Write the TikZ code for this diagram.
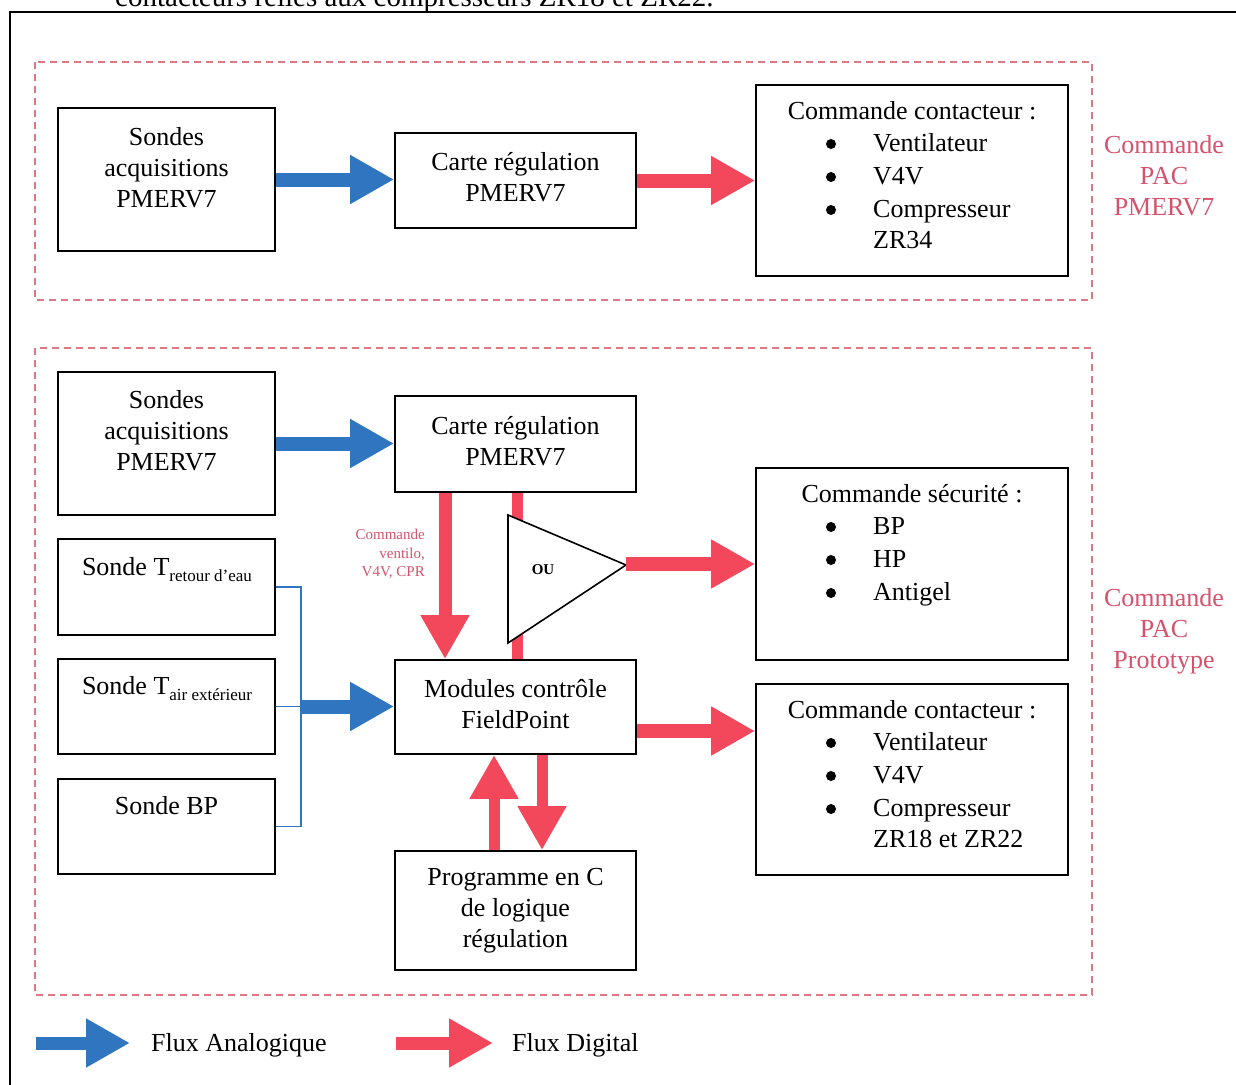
\documentclass[tikz,border=0pt]{standalone}
\usepackage{fontspec}
\setmainfont{Liberation Serif}
\usetikzlibrary{arrows.meta}
\definecolor{blueA}{RGB}{47,117,192}
\definecolor{redA}{RGB}{243,72,92}
\definecolor{pinkT}{RGB}{214,82,108}
\definecolor{dashR}{RGB}{222,120,130}
\newcommand\bigf{\fontsize{26}{31}\selectfont}
\newcommand\subf{\fontsize{17}{17}\selectfont}
\begin{document}
\begin{tikzpicture}[x=1pt,y=-1pt,font=\bigf,
  box/.style={draw=black, line width=1.8pt, inner sep=0pt, fill=white},
  lbl/.style={align=center, inner sep=0pt},
  bul/.style={circle, fill=black, inner sep=0pt, minimum size=10pt},
  itm/.style={anchor=west, inner sep=0pt, text height=18pt, text depth=5pt},
  ttl/.style={inner sep=0pt, text height=18pt, text depth=5pt},
  grp/.style={draw=dashR, line width=1.5pt, dash pattern=on 7pt off 5pt},
  pac/.style={align=center, inner sep=0pt, text=pinkT},
  bluearrow/.style={draw=blueA, line width=14pt, -{Triangle[width=46pt,length=44pt]}},
  redarrow/.style={draw=redA, line width=14pt, -{Triangle[width=46pt,length=44pt]}},
  brace/.style={draw=blueA, line width=1.3pt}
]
\useasboundingbox (0,0) rectangle (1236,1084);
\clip (0,0) rectangle (1236,1084);

% caption line (cut off) and outer frame
\node[anchor=base west, inner sep=0pt, font=\fontsize{29}{31}\selectfont] (cap) at (115,6) {contacteurs reliés aux compresseurs ZR18 et ZR22.};
\draw[line width=2pt] (10,1100) -- (10,12) -- (1250,12);

% groups
\draw[grp] (35,62) rectangle (1092,300);
\draw[grp] (35,348) rectangle (1092,995);
\node[pac] (pac1) at (1164,176) {Commande\\PAC\\PMERV7};
\node[pac] (pac2) at (1164,631) {Commande\\PAC\\Prototype};

% ---------- top group ----------
\node[box, minimum width=217pt, minimum height=143pt] (sa1) at (166.5,179.5) {};
\node[lbl] (sa1t) at (166.5,168) {Sondes\\acquisitions\\PMERV7};
\node[box, minimum width=241pt, minimum height=95pt] (cr1) at (515.5,180.5) {};
\node[lbl] (cr1t) at (515.5,177) {Carte régulation\\PMERV7};
\node[box, minimum width=312pt, minimum height=191pt] (cc1) at (912,180.5) {};
\node[ttl] (cc1t) at (912,113) {Commande contacteur :};
\node[bul] (cc1b1) at (831,144) {};
\node[bul] (cc1b2) at (831,177) {};
\node[bul] (cc1b3) at (831,210) {};
\node[itm] (cc1i1) at (873,145) {Ventilateur};
\node[itm] (cc1i2) at (873,178) {V4V};
\node[itm] (cc1i3) at (873,211) {Compresseur};
\node[itm] (cc1i4) at (873,242) {ZR34};

\draw[bluearrow] (sa1.east) -- (sa1.east -| cr1.west);
\draw[redarrow] (cr1.east) -- (cr1.east -| cc1.west);

% ---------- bottom group ----------
\node[box, minimum width=217pt, minimum height=143pt] (sa2) at (166.5,443.5) {};
\node[lbl] (sa2t) at (166.5,431) {Sondes\\acquisitions\\PMERV7};
\node[box, minimum width=241pt, minimum height=96pt] (cr2) at (515.5,444) {};
\node[lbl] (cr2t) at (515.5,441) {Carte régulation\\PMERV7};

\node[box, minimum width=217pt, minimum height=96pt] (st1) at (166.5,587) {};
\node[ttl] (st1t) at (167,569) {Sonde T\raisebox{-0.22em}{\subf retour d’eau}};
\node[box, minimum width=217pt, minimum height=95pt] (st2) at (166.5,706.5) {};
\node[ttl] (st2t) at (167,688) {Sonde T\raisebox{-0.22em}{\subf air extérieur}};
\node[box, minimum width=217pt, minimum height=95pt] (sbp) at (166.5,826.5) {};
\node[ttl] (sbpt) at (166.5,808) {Sonde BP};

\node[box, minimum width=241pt, minimum height=94pt] (mod) at (515.5,707) {};
\node[lbl] (modt) at (515.5,704) {Modules contrôle\\FieldPoint};
\node[box, minimum width=241pt, minimum height=119pt] (prog) at (515.5,910.5) {};
\node[lbl] (progt) at (515.5,911) {Programme en C\\de logique\\régulation};

\node[box, minimum width=312pt, minimum height=192pt] (sec) at (912,564) {};
\node[ttl] (sect) at (912,496) {Commande sécurité :};
\node[bul] (secb1) at (831,527) {};
\node[bul] (secb2) at (831,560) {};
\node[bul] (secb3) at (831,593) {};
\node[itm] (seci1) at (873,528) {BP};
\node[itm] (seci2) at (873,561) {HP};
\node[itm] (seci3) at (873,594) {Antigel};

\node[box, minimum width=312pt, minimum height=191pt] (cc2) at (912,779.5) {};
\node[ttl] (cc2t) at (912,712) {Commande contacteur :};
\node[bul] (cc2b1) at (831,743) {};
\node[bul] (cc2b2) at (831,776) {};
\node[bul] (cc2b3) at (831,809) {};
\node[itm] (cc2i1) at (873,744) {Ventilateur};
\node[itm] (cc2i2) at (873,777) {V4V};
\node[itm] (cc2i3) at (873,810) {Compresseur};
\node[itm] (cc2i4) at (873,841) {ZR18 et ZR22};

% analog arrows
\draw[bluearrow] (sa2.east) -- (sa2.east -| cr2.west);
\draw[brace] (st1.east) -- ++(25,0) coordinate (bt) -- (bt |- sbp.east) -- (sbp.east);
\draw[brace] (st2.east) -- ++(25,0) coordinate (bj);
\draw[bluearrow] (bj) -- (bj -| mod.west);

% digital arrows
\draw[redarrow, line width=13pt] ([xshift=-70.5pt]cr2.south) -- ([xshift=-70.5pt]mod.north);
\node[anchor=east, align=right, inner sep=0pt, text=pinkT, font=\fontsize{15}{18.5}\selectfont] (cmdl) at (425,554) {Commande\\ventilo,\\V4V, CPR};
\draw[draw=redA, line width=11pt] ([xshift=1.5pt]cr2.south) -- ([xshift=1.5pt]mod.north);
\draw[line width=1.6pt, fill=white] (508,515) -- (508,643) -- (626,565) -- cycle;
\coordinate (ouTip) at (626,564);
\node[inner sep=0pt, font=\fontsize{15}{15}\selectfont\bfseries] (ou) at (543,570) {OU};
\draw[redarrow] (ouTip) -- (ouTip -| sec.west);
\draw[redarrow] ([yshift=-24pt]mod.east) -- ([yshift=-24pt]mod.east -| cc2.west);
\draw[redarrow, line width=11pt] ([xshift=-21.5pt]prog.north) -- ([xshift=-21.5pt]mod.south);
\draw[redarrow, line width=11pt] ([xshift=26.5pt]mod.south) -- ([xshift=26.5pt]prog.north);

% legend
\coordinate (lb1) at (36,1043);
\coordinate (lb2) at (130,1043);
\draw[bluearrow, line width=13pt] (lb1) -- (lb2);
\node[anchor=west, inner sep=0pt, text height=18pt, text depth=5pt] (lbt) at (151,1045) {Flux Analogique};
\coordinate (lr1) at (396,1043);
\coordinate (lr2) at (493,1043);
\draw[redarrow, line width=13pt] (lr1) -- (lr2);
\node[anchor=west, inner sep=0pt, text height=18pt, text depth=5pt] (lrt) at (512,1045) {Flux Digital};
\end{tikzpicture}
\end{document}
